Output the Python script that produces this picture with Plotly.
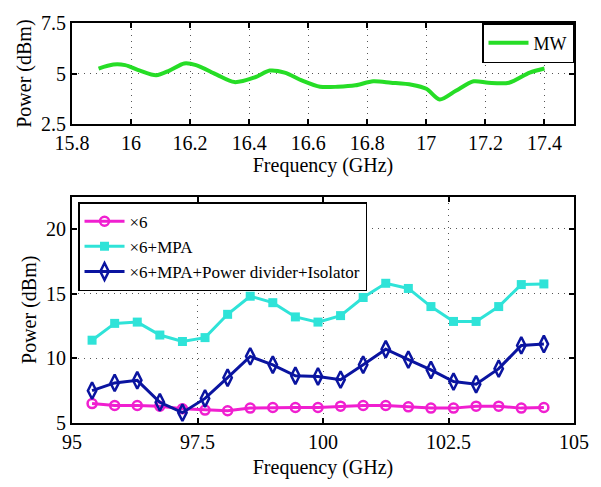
import plotly.graph_objects as go
from plotly.subplots import make_subplots

# ---- data: top panel (MW) ----
mw_freq = [15.89, 15.94, 15.98, 16.03, 16.085, 16.13, 16.18, 16.22, 16.29, 16.35,
           16.42, 16.47, 16.52, 16.58, 16.64, 16.70, 16.76, 16.82, 16.88, 16.95,
           17.00, 17.045, 17.10, 17.16, 17.21, 17.28, 17.35, 17.40]
mw_power = [5.25, 5.45, 5.42, 5.15, 4.92, 5.15, 5.50, 5.42, 4.95, 4.58,
            4.82, 5.15, 5.05, 4.65, 4.35, 4.35, 4.42, 4.62, 4.55, 4.45,
            4.25, 3.72, 4.15, 4.62, 4.55, 4.55, 5.05, 5.25]

# ---- data: bottom panel ----
freq = [95.4, 95.85, 96.3, 96.75, 97.2, 97.65, 98.1, 98.55, 99.0, 99.45,
        99.9, 100.35, 100.8, 101.25, 101.7, 102.15, 102.6, 103.05, 103.5, 103.95, 104.4]
x6 = [6.5, 6.35, 6.35, 6.3, 6.1, 6.0, 5.95, 6.15, 6.2, 6.2,
      6.2, 6.3, 6.35, 6.35, 6.25, 6.15, 6.15, 6.3, 6.3, 6.15, 6.2]
x6_mpa = [11.4, 12.7, 12.8, 11.8, 11.3, 11.6, 13.4, 14.8, 14.3, 13.2,
          12.8, 13.3, 14.7, 15.8, 15.4, 14.0, 12.85, 12.85, 14.0, 15.7, 15.75]
x6_full = [7.5, 8.1, 8.3, 6.6, 5.8, 6.9, 8.5, 10.15, 9.5, 8.65,
           8.6, 8.35, 9.5, 10.7, 9.9, 9.1, 8.2, 8.0, 9.2, 11.0, 11.1]

FONT = "Liberation Serif"
TF = dict(family=FONT, size=20, color="black")

fig = make_subplots(rows=2, cols=1, vertical_spacing=0.0)

fig.add_trace(go.Scatter(x=mw_freq, y=mw_power, mode="lines", name="MW",
                         line=dict(color="#26dd26", width=4, shape="spline", smoothing=0.8),
                         legend="legend"), row=1, col=1)

fig.add_trace(go.Scatter(x=freq, y=x6, mode="lines+markers", name="×6",
                         line=dict(color="#f01fd0", width=3),
                         marker=dict(symbol="circle-open", size=9, line=dict(width=2.5, color="#f01fd0")),
                         legend="legend2"), row=2, col=1)
fig.add_trace(go.Scatter(x=freq, y=x6_mpa, mode="lines+markers", name="×6+MPA",
                         line=dict(color="#2fe3d8", width=3),
                         marker=dict(symbol="square", size=9, color="#2fe3d8"),
                         legend="legend2"), row=2, col=1)
fig.add_trace(go.Scatter(x=freq, y=x6_full, mode="lines+markers",
                         name="×6+MPA+Power divider+Isolator",
                         line=dict(color="#0a14a0", width=3),
                         marker=dict(symbol="diamond-tall-open", size=12, line=dict(width=2.5, color="#0a14a0")),
                         legend="legend2"), row=2, col=1)

axis_common = dict(showline=True, linecolor="black", linewidth=2, mirror="ticks",
                   ticks="inside", ticklen=5, tickcolor="black", tickwidth=1.5,
                   showgrid=True, gridcolor="#555", griddash="1px,5px", gridwidth=1.2,
                   zeroline=False, tickfont=TF)

fig.update_xaxes(**axis_common)
fig.update_yaxes(**axis_common)

fig.update_xaxes(range=[15.8, 17.5], tickvals=[15.8, 16, 16.2, 16.4, 16.6, 16.8, 17, 17.2, 17.4],
                 ticktext=["15.8", "16", "16.2", "16.4", "16.6", "16.8", "17", "17.2", "17.4"],
                 title=dict(text="Frequency (GHz)", font=TF, standoff=5),
                 row=1, col=1)
fig.update_yaxes(range=[2.5, 7.5], tickvals=[2.5, 5, 7.5], ticktext=["2.5", "5", "7.5"],
                 title=dict(text="Power (dBm)", font=TF, standoff=4),
                 row=1, col=1)
fig.update_xaxes(range=[95, 105], tickvals=[95, 97.5, 100, 102.5, 105],
                 ticktext=["95", "97.5", "100", "102.5", "105"],
                 title=dict(text="Frequency (GHz)", font=TF, standoff=8),
                 row=2, col=1)
fig.update_yaxes(range=[5, 22.5], tickvals=[5, 10, 15, 20], ticktext=["5", "10", "15", "20"],
                 title=dict(text="Power (dBm)", font=TF, standoff=4),
                 row=2, col=1)

fig.update_layout(
    width=601, height=487,
    margin=dict(l=72, r=18, t=13, b=59),
    paper_bgcolor="white", plot_bgcolor="white",
    font=dict(family=FONT, size=18, color="black"),
    xaxis=dict(domain=[0, 1]),
    yaxis=dict(domain=[0.747, 1.0]),
    xaxis2=dict(domain=[0, 1]),
    yaxis2=dict(domain=[0.0, 0.566]),
    legend=dict(x=1.0, y=1.0, xanchor="right", yanchor="top",
                bordercolor="black", borderwidth=1.5, bgcolor="white",
                font=dict(family=FONT, size=18, color="black"),
                tracegroupgap=0, itemwidth=40),
    legend2=dict(x=0.012, y=0.552, xanchor="left", yanchor="top",
                 bordercolor="black", borderwidth=1.5, bgcolor="white",
                 font=dict(family=FONT, size=17, color="black"),
                 tracegroupgap=0, itemwidth=40),
    showlegend=True,
)

fig.write_html("out.html")
